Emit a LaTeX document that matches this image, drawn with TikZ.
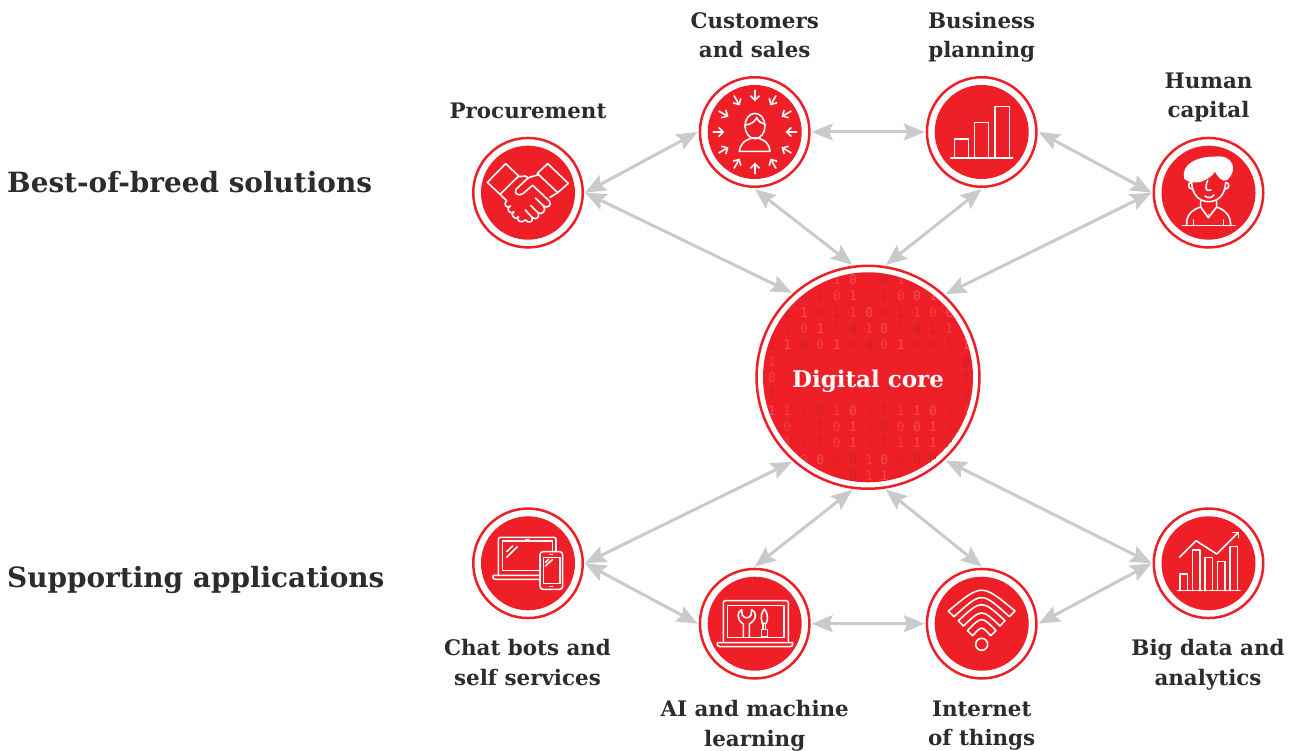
\documentclass[tikz,border=0pt]{standalone}
\usepackage{fontspec}
\setmainfont{DejaVu Serif}
\newfontfamily\digitfont{DejaVu Sans Mono}
\usetikzlibrary{arrows.meta}
\definecolor{brand}{HTML}{EE1F27}
\definecolor{link}{HTML}{C8CACC}
\definecolor{ink}{HTML}{2C2C30}
\definecolor{dA}{HTML}{F13C43}
\definecolor{dB}{HTML}{F24C52}
\definecolor{dC}{HTML}{DA1F28}
\definecolor{dD}{HTML}{CC1F27}
\tikzset{
  x=1pt,y=-1pt,
  ring/.style={circle,draw=brand,line width=2.5pt,fill=white,minimum size=109.5pt,inner sep=0pt,outer sep=2.25pt},
  corering/.style={ring,minimum size=222.9pt},
  linkline/.style={draw=link,line width=3pt,{Stealth[length=21pt,width=17pt,inset=3.5pt]}-{Stealth[length=21pt,width=17pt,inset=3.5pt]}},
  lbl/.style={text=ink,font=\fontsize{21.4}{29.5}\selectfont\bfseries,align=center,inner sep=0pt},
  heading/.style={text=ink,font=\fontsize{27.9}{34}\selectfont\bfseries,anchor=west,inner sep=0pt},
  icon/.style={draw=white,line width=1.6pt,line join=round,line cap=round},
  zoomA/.style={x=0.33333pt,y=-0.33333pt,shift={(460pt,-70pt)}},
  zoomB/.style={x=0.33333pt,y=-0.33333pt,shift={(910pt,-70pt)}},
  zoomC/.style={x=0.33333pt,y=-0.33333pt,shift={(460pt,-500pt)}},
  zoomD/.style={x=0.33333pt,y=-0.33333pt,shift={(910pt,-500pt)}},
  zoomE/.style={x=0.33333pt,y=-0.33333pt,shift={(750pt,-260pt)}},
}
\begin{document}
\begin{tikzpicture}
\useasboundingbox (0,0) rectangle (1295,751);
% nodes
\node[ring] (proc) at (528,192.7) {};
\node[ring] (cust) at (754.7,132) {};
\node[ring] (biz) at (981.7,132) {};
\node[ring] (human) at (1208.5,192.7) {};
\node[ring] (chat) at (528,563.3) {};
\node[ring] (ai) at (754.7,623.7) {};
\node[ring] (iot) at (981.7,623.7) {};
\node[ring] (big) at (1208.5,563.3) {};
\node[corering] (core) at (868,377.3) {};
\foreach \n in {proc,cust,biz,human,chat,ai,iot,big} \fill[brand] (\n.center) circle (47);
\fill[brand] (core.center) circle (105);
% binary texture
\begin{scope}
\clip (core.center) circle (105);
\begin{scope}[zoomE]
\foreach \y/\row in {
 60/{260/1,309/0,358/1,403/0,452/1},
 108/{162/0,211/1,260/0,309/1,358/1,403/1,452/0,501/0,549/1},
 157/{112/1,162/1,211/0,260/1,309/1,358/0,403/0,452/1,501/1,549/0,598/0},
 206/{112/1,162/0,211/1,260/1,309/0,358/1,403/0,452/1,501/0,549/1,598/1},
 255/{65/1,112/1,162/0,211/0,260/1,309/0,358/0,403/0,452/1,501/0,549/0,598/1,648/1},
 305/{65/1,648/0},
 353/{65/0,648/1},
 402/{65/1,648/0},
 452/{65/1,112/1,162/1,211/0,260/1,309/0,358/0,403/1,452/1,501/1,549/0,598/1,648/1},
 500/{112/0,162/0,211/1,260/0,309/1,358/0,403/0,452/0,501/0,549/1,598/1},
 548/{112/1,162/1,211/1,260/0,309/1,358/1,403/1,452/1,501/1,549/1,598/0},
 598/{162/0,211/0,260/0,309/0,358/1,403/0,452/0,501/0,549/0},
 646/{260/0,309/0,358/1,403/1,452/1}}{
  \foreach \x/\d in \row {
    \pgfmathsetmacro\m{int(mod(\x*13+\y*7,4))}
    \node[inner sep=0pt,font=\digitfont\fontsize{13}{13}\selectfont,
      text=\ifcase\m\space dA\or dB\or dC\or dD\fi] (d\y-\x) at (\x,\y) {\d};
  }
}
\end{scope}
\end{scope}
\node[text=white,font=\fontsize{23}{28}\selectfont\bfseries,inner sep=0pt] (corelabel) at (868,381) {Digital core};
% connectors
\draw[linkline] (proc.east) -- (cust.west);
\draw[linkline] (cust.east) -- (biz.west);
\draw[linkline] (biz.east) -- (human.west);
\draw[linkline] (proc.east) -- (core.132.6);
\draw[linkline] (cust.south) -- (core.98.3);
\draw[linkline] (biz.south) -- (core.81.7);
\draw[linkline] (human.west) -- (core.47.4);
\draw[linkline] (chat.east) -- (core.-132.6);
\draw[linkline] (ai.north) -- (core.-98.3);
\draw[linkline] (iot.north) -- (core.-81.7);
\draw[linkline] (big.west) -- (core.-47.4);
\draw[linkline] (chat.east) -- (ai.west);
\draw[linkline] (ai.east) -- (iot.west);
\draw[linkline] (iot.east) -- (big.west);
% labels
\node[heading] (h1) at (7,182) {Best-of-breed solutions};
\node[heading] (h2) at (7,580) {Supporting applications};
\node[lbl] (lproc) at (528,111) {Procurement};
\node[lbl] (lcust) at (754.7,35) {Customers\\and sales};
\node[lbl] (lbiz) at (981.7,37.5) {Business\\planning};
\node[lbl] (lhuman) at (1208.5,97.5) {Human\\capital};
\node[lbl] (lchat) at (527.5,662.5) {Chat bots and\\self services};
\node[lbl] (lai) at (754.7,725.5) {AI and machine\\learning};
\node[lbl] (liot) at (981.7,725.5) {Internet\\of things};
\node[lbl] (lbig) at (1208,664.5) {Big data and\\analytics};
% handshake
\begin{scope}[zoomA,icon]
\draw (82,337) -- (137,281) -- (176,318) -- (120,373) -- cycle;
\draw (263,281) -- (325,340) -- (293,368) -- (232,310) -- cycle;
\draw (176,320) -- (196,318) -- (206,325);
\draw (236,314) -- (205,323) -- (168,358) .. controls (160,372) and (178,380) .. (190,370) -- (218,346) -- (268,393) .. controls (278,405) and (260,418) .. (250,407) -- (226,384);
\draw (250,407) .. controls (262,420) and (245,438) .. (234,428) -- (212,406);
\draw (234,428) .. controls (242,442) and (226,452) .. (216,442) -- (196,420);
\draw (216,442) .. controls (222,456) and (206,462) .. (196,450);
\draw (293,368) -- (270,382);
\draw (120,373) -- (140,392);
\draw (140,392) .. controls (128,402) and (140,418) .. (152,408);
\draw (148,410) .. controls (138,420) and (150,434) .. (162,426);
\draw (160,425) .. controls (150,436) and (164,450) .. (176,442);
\draw (174,440) .. controls (168,452) and (184,462) .. (196,450);
\end{scope}
% person with arrows
\begin{scope}[zoomA,icon]
\draw (885,168) ellipse (30 and 38);
\draw (855,165) .. controls (870,165) and (885,155) .. (890,143) .. controls (895,155) and (905,160) .. (915,163);
\draw (838,244) -- (930,244) .. controls (925,190) and (845,190) .. (838,244) -- cycle;
\foreach \a in {0,30,...,330}
  \draw[-{Straight Barb[length=4.5pt,width=9pt]}] ({885+125*cos(\a)},{186+125*sin(\a)}) -- ({885+92*cos(\a)},{186+92*sin(\a)});
\end{scope}
% bar chart
\begin{scope}[zoomB,icon]
\draw (122,264) -- (308,264);
\draw (133,264) -- (133,207) -- (175,207) -- (175,264);
\draw (193,264) -- (193,158) -- (236,158) -- (236,264);
\draw (255,264) -- (255,110) -- (298,110) -- (298,264);
\end{scope}
% woman
\begin{scope}[zoomB,icon]
\filldraw[fill=white] (825,325) .. controls (815,285) and (860,262) .. (915,262) .. controls (968,256) and (982,300) .. (950,328) .. controls (938,335) and (925,320) .. (915,300) .. controls (900,330) and (850,348) .. (825,325) -- cycle;
\draw (845,335) .. controls (845,375) and (870,395) .. (895,395) .. controls (925,395) and (945,375) .. (947,338);
\draw (845,338) .. controls (832,335) and (832,358) .. (848,358);
\draw (947,338) .. controls (960,335) and (960,358) .. (944,358);
\draw (893,332) .. controls (885,352) and (884,365) .. (903,360);
\draw (885,378) .. controls (893,386) and (905,384) .. (912,375);
\draw (872,393) -- (872,411) -- (895,443) -- (920,411) -- (920,393);
\draw (872,411) .. controls (845,420) and (828,435) .. (830,467);
\draw (920,411) .. controls (945,420) and (962,435) .. (962,467);
\draw (817,467) -- (975,467);
\draw (851,467) -- (851,450);
\draw (941,467) -- (941,450);
\foreach \p in {(880,425),(888,432),(896,434),(904,430),(911,424)} \fill[white] \p circle (1.8);
\end{scope}
% laptop and tablet
\begin{scope}[zoomC,icon]
\draw (115,224) -- (115,120) .. controls (115,114) .. (122,112) -- (282,112) .. controls (288,114) .. (288,120) -- (288,155);
\draw (240,212) -- (127,212) -- (127,123) -- (277,123) -- (277,155);
\draw (240,226) -- (100,226) .. controls (98,236) .. (106,238) -- (240,238);
\draw (197,120) -- (207,120);
\draw (140,172) -- (172,140);
\draw (140,155) -- (158,138);
\draw[rounded corners=3pt] (240,155) rectangle (308,268);
\draw (250,172) rectangle (300,250);
\draw (256,198) -- (278,178);
\draw (256,187) -- (266,178);
\draw (269,163) -- (278,163);
\draw (269,259) -- (278,259);
\end{scope}
% laptop with tools
\begin{scope}[zoomC,icon]
\draw (790,426) -- (790,310) .. controls (790,304) .. (797,302) -- (978,302) .. controls (985,304) .. (985,310) -- (985,426);
\draw (802,316) rectangle (972,412);
\draw (772,428) -- (998,428) .. controls (998,438) .. (990,440) -- (780,440) .. controls (772,438) .. (772,428);
\draw (850,410) -- (850,372) .. controls (828,358) and (832,335) .. (845,329) -- (847,346) .. controls (852,356) and (868,356) .. (873,346) -- (875,329) .. controls (890,335) and (892,358) .. (868,372) -- (868,410);
\draw (907,370) .. controls (900,350) and (905,338) .. (913,327) .. controls (921,338) and (926,350) .. (919,370) -- cycle;
\draw (909,370) -- (909,388);
\draw (917,370) -- (917,388);
\draw (904,388) rectangle (922,410);
\end{scope}
% wifi
\begin{scope}[zoomD,icon]
\draw (115,333) .. controls (215,250) .. (315,333) -- (298,350) .. controls (215,274) .. (132,350) -- cycle;
\draw (145,362) .. controls (215,298) .. (285,362) -- (270,378) .. controls (215,326) .. (160,378) -- cycle;
\draw (172,392) .. controls (215,348) .. (258,392) -- (242,407) .. controls (215,377) .. (188,407) -- cycle;
\draw (215,433) circle (18);
\end{scope}
% analytics
\begin{scope}[zoomD,icon]
\draw (802,272) -- (990,272);
\draw (810,272) -- (810,222) -- (832,222) -- (832,272);
\draw (847,272) -- (847,150) -- (870,150) -- (870,272);
\draw (885,272) -- (885,172) -- (907,172) -- (907,272);
\draw (922,272) -- (922,185) -- (945,185) -- (945,272);
\draw (960,272) -- (960,140) -- (983,140) -- (983,272);
\draw (808,172) -- (858,122) -- (920,162) -- (985,97);
\draw (968,97) -- (985,97) -- (985,113);
\end{scope}
\end{tikzpicture}
\end{document}
